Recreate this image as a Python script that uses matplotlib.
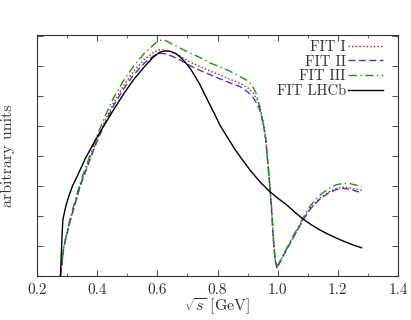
import matplotlib
matplotlib.use("Agg")
import matplotlib.pyplot as plt
from matplotlib.ticker import MultipleLocator

plt.rcParams['font.family'] = ['cmr10', 'DejaVu Serif']
plt.rcParams['mathtext.fontset'] = 'cm'
plt.rcParams['axes.formatter.use_mathtext'] = True

# FIT I / II / III share the x grid
x_fit = [0.278, 0.289, 0.311, 0.344, 0.377, 0.398, 0.425, 0.454, 0.487, 0.52, 0.555,
         0.587, 0.605, 0.625, 0.65, 0.675, 0.71, 0.742, 0.775, 0.808, 0.84, 0.875,
         0.902, 0.915, 0.93, 0.941, 0.952, 0.96, 0.969, 0.975, 0.98, 0.986, 0.991,
         0.997, 1.008, 1.019, 1.041, 1.063, 1.085, 1.11, 1.141, 1.17, 1.195, 1.218,
         1.24, 1.26, 1.279]
fit1 = [0.0, 0.98, 1.9, 3.05, 3.95, 4.5, 5.15, 5.76, 6.33, 6.81, 7.2,
        7.45, 7.54, 7.53, 7.45, 7.33, 7.12, 6.98, 6.83, 6.7, 6.56, 6.42,
        6.26, 6.14, 5.92, 5.65, 5.15, 4.65, 3.6, 2.9, 2.2, 1.2, 0.6,
        0.28, 0.48, 0.7, 1.1, 1.5, 1.9, 2.28, 2.6, 2.8, 2.92, 2.96,
        2.94, 2.9, 2.86]
fit2 = [0.0, 0.95, 1.86, 3.0, 3.9, 4.45, 5.07, 5.67, 6.22, 6.69, 7.08,
        7.33, 7.42, 7.41, 7.32, 7.2, 7.0, 6.85, 6.71, 6.57, 6.44, 6.31,
        6.12, 6.0, 5.76, 5.52, 5.08, 4.6, 3.55, 2.85, 2.15, 1.15, 0.58,
        0.26, 0.46, 0.68, 1.08, 1.48, 1.88, 2.25, 2.57, 2.77, 2.88, 2.92,
        2.89, 2.83, 2.77]
fit3 = [0.0, 1.0, 1.95, 3.12, 4.05, 4.62, 5.3, 5.93, 6.5, 6.98, 7.4,
        7.7, 7.85, 7.86, 7.72, 7.6, 7.42, 7.28, 7.1, 6.97, 6.83, 6.64,
        6.5, 6.36, 6.05, 5.6, 5.05, 4.55, 3.6, 2.9, 2.25, 1.25, 0.62,
        0.3, 0.5, 0.72, 1.13, 1.54, 1.95, 2.36, 2.7, 2.92, 3.04, 3.09,
        3.08, 3.03, 2.98]

x_lhcb = [0.278, 0.281, 0.284, 0.286, 0.295, 0.305, 0.318, 0.333, 0.36, 0.394,
          0.425, 0.454, 0.487, 0.52, 0.555, 0.587, 0.609, 0.625, 0.642, 0.66,
          0.675, 0.692, 0.709, 0.725, 0.742, 0.758, 0.775, 0.792, 0.808, 0.825,
          0.842, 0.858, 0.875, 0.892, 0.908, 0.925, 0.941, 0.958, 0.974, 1.002,
          1.03, 1.058, 1.085, 1.113, 1.141, 1.168, 1.196, 1.224, 1.252, 1.279]
lhcb = [0.0, 0.8, 1.5, 1.87, 2.3, 2.64, 3.0, 3.31, 3.9, 4.53,
        5.05, 5.53, 6.05, 6.53, 6.95, 7.3, 7.46, 7.5, 7.49, 7.42,
        7.31, 7.13, 6.92, 6.66, 6.37, 6.04, 5.7, 5.36, 5.03, 4.75,
        4.48, 4.22, 3.98, 3.75, 3.53, 3.33, 3.14, 2.97, 2.81, 2.58,
        2.37, 2.12, 1.89, 1.7, 1.53, 1.39, 1.26, 1.14, 1.03, 0.94]

labels = ["FIT I", "FIT II", "FIT III", "FIT LHCb"]

fig = plt.figure(figsize=(4.11, 3.2), dpi=100)
ax = fig.add_axes([37/411, 44/320, 361/411, 241/320])

ax.plot(x_fit, fit1, color='#cc1111', linestyle=(0, (1, 1.6)), lw=1.0, label=labels[0])
ax.plot(x_fit, fit2, color='#3a3acc', linestyle=(0, (5, 2.5)), lw=1.0, label=labels[1])
ax.plot(x_fit, fit3, color='#119911', linestyle=(0, (6, 2.5, 1, 2.5)), lw=1.0, label=labels[2])
ax.plot(x_lhcb, lhcb, color='black', linestyle='-', lw=1.0, label=labels[3])

ax.set_xlim(0.2, 1.4)
ax.set_ylim(0, 8.03)
ax.xaxis.set_minor_locator(MultipleLocator(0.1))
ax.yaxis.set_major_locator(MultipleLocator(1))
ax.set_yticklabels([])
ax.tick_params(which='both', direction='in', top=True, right=True, colors='#555555',
               labelcolor='#333333', labelsize=11)
ax.tick_params(which='major', length=4, pad=5)
ax.tick_params(which='minor', length=2)
ax.set_xticks([0.2, 0.4, 0.6, 0.8, 1.0, 1.2, 1.4])
ax.set_xticklabels(["0.2", "0.4", "0.6", "0.8", "1.0", "1.2", "1.4"])
for s in ax.spines.values():
    s.set_color('#333333')
    s.set_linewidth(0.8)

ax.set_xlabel(r"$\sqrt{s}$ [GeV]", fontsize=11.5, color='#333333', labelpad=0)
ax.set_ylabel("arbitrary units", fontsize=11.5, color='#333333', labelpad=11)

leg = ax.legend(loc='upper right', frameon=False, markerfirst=False, fontsize=10.5,
                handlelength=2.4, handletextpad=0.15, labelspacing=0.08,
                borderaxespad=0.0, borderpad=0.0,
                bbox_to_anchor=(383/411, 1 - 40/320), bbox_transform=fig.transFigure)
for t in leg.get_texts():
    t.set_color('#333333')

fig.savefig("out.png", dpi=100)
